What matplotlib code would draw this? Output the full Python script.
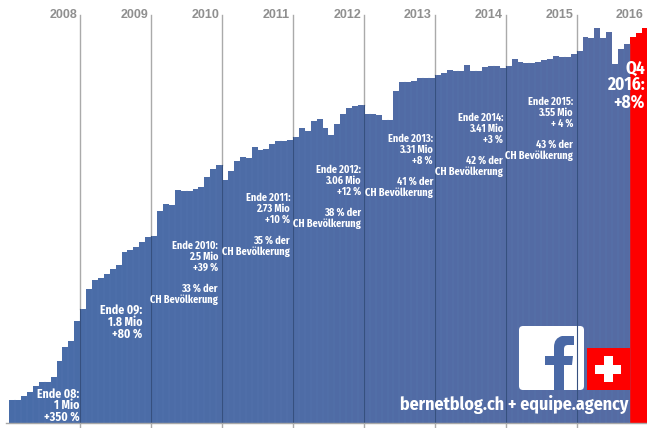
import matplotlib
matplotlib.use("Agg")
import matplotlib.pyplot as plt
from matplotlib.patches import FancyBboxPatch, PathPatch, Rectangle
from matplotlib.path import Path
from matplotlib.colors import to_rgb
import numpy as np

# fans in Mio, one bar per month, last three bars (red) are Q4 2016
users = [
    0.22, 0.22, 0.26, 0.30, 0.36, 0.40, 0.40, 0.44, 0.60, 0.73, 0.79, 0.99,
    1.10, 1.29, 1.38, 1.40, 1.44, 1.49, 1.53, 1.65, 1.67, 1.70, 1.75, 1.80,
    1.81, 2.05, 2.12, 2.11, 2.25, 2.24, 2.24, 2.26, 2.28, 2.38, 2.45, 2.49,
    2.35, 2.43, 2.53, 2.57, 2.56, 2.67, 2.64, 2.65, 2.70, 2.72, 2.72, 2.73,
    2.76, 2.85, 2.82, 2.92, 2.94, 2.85, 2.78, 2.89, 2.99, 3.04, 3.06, 3.07,
    2.99, 2.99, 2.98, 2.93, 2.93, 3.21, 3.29, 3.29, 3.30, 3.33, 3.33, 3.33,
    3.36, 3.38, 3.41, 3.40, 3.40, 3.46, 3.40, 3.40, 3.44, 3.45, 3.45, 3.43,
    3.45, 3.52, 3.49, 3.48, 3.48, 3.49, 3.51, 3.52, 3.55, 3.54, 3.54, 3.57,
    3.59, 3.73, 3.72, 3.82, 3.72, 3.78, 3.47, 3.61, 3.66, 3.73, 3.77, 3.82,
]
n_red = 3
years = ["2008", "2009", "2010", "2011", "2012", "2013", "2014", "2015"]
year_pos = [11.5, 23.5, 35.5, 47.5, 59.5, 71.5, 83.5, 95.5]

labels = [
    (["Ende 08:", "1 Mio", "+350 %"], 79.5, 394, 11.7, 8.5),
    (["Ende 09:", "1.8 Mio", "+80 %"], 142, 311, 11.7, 8.5),
    (["Ende 2010:", "2.5 Mio", "+39 %", "", "33 % der", "CH Bevölkerung"], 218, 246, 10.7, 7.4),
    (["Ende 2011:", "2.73 Mio", "+10 %", "", "35 % der", "CH Bevölkerung"], 290, 198, 10.7, 7.4),
    (["Ende 2012:", "3.06 Mio", "+12 %", "", "38 % der", "CH Bevölkerung"], 361, 170, 10.7, 7.4),
    (["Ende 2013:", "3.31 Mio", "+8 %", "", "41 % der", "CH Bevölkerung"], 433, 139, 10.7, 7.4),
    (["Ende 2014:", "3.41 Mio", "+3 %", "", "42 % der", "CH Bevölkerung"], 503, 118, 10.7, 7.4),
    (["Ende 2015:", "3.55 Mio", "+ 4 %", "", "43 % der", "CH Bevölkerung"], 573, 102, 10.7, 7.4),
    (["Q4", "2016:", "+8%"], 645, 68, 17, 12.5),
]

plt.rcParams['font.family'] = ['Fira Sans Condensed', 'Barlow Condensed', 'Liberation Sans', 'DejaVu Sans']

fig = plt.figure(figsize=(6.47, 4.28), dpi=100)
ax = fig.add_axes([0, 5 / 428, 1, 423 / 428])
ax.axis("off")
px_bar = 5.91
px_start = 9.3
ax.set_xlim(-0.5 - px_start / px_bar, -0.5 + (647 - px_start) / px_bar)
ax.set_ylim(0, 423 / 103.5)

# blue drifts a little towards violet on the right side
left = np.array(to_rgb("#486ca8"))
right = np.array(to_rgb("#566ba3"))
colors = []
for i in range(len(users)):
    if i >= len(users) - n_red:
        colors.append("#fe0000")
    else:
        colors.append(tuple(left + (right - left) * i / len(users)))
x = np.arange(len(users))
ax.bar(x, users, width=1.0, color=colors, linewidth=0)
# thin light seams between the blue bars
for i in x[:-n_red]:
    ax.plot([i + 0.5, i + 0.5], [0, min(users[i], users[i + 1])], color="#587aB2", lw=0.3, zorder=2)

# pixel overlay for lines, text and logo
ov = fig.add_axes([0, 0, 1, 1], facecolor="none")
ov.set_xlim(0, 647)
ov.set_ylim(428, 0)
ov.axis("off")
ov.plot([6, 647], [423, 423], color="#a8a8a8", lw=1)

for name, pos in zip(years, year_pos):
    xp = px_start + (pos + 0.5) * px_bar
    top = 423 - max(users[int(pos + 0.5)], users[int(pos - 0.5)]) * 103.5
    ov.plot([xp, xp], [15, top], color="#aaaaaa", lw=1)
    ov.plot([xp, xp], [top, 423], color="#36507f", lw=0.8)
    ov.plot([xp, xp], [423, 428], color="#aaaaaa", lw=1)
    ov.text(xp - 3, 15, name, ha="right", va="center", color="#8f8f8f", fontsize=9,
            fontweight="bold", family="Liberation Sans")
ov.text(644, 15, "2016", ha="right", va="center", color="#8f8f8f", fontsize=9,
        fontweight="bold", family="Liberation Sans")

for lines, xr, y0, step, size in labels:
    for k, line in enumerate(lines):
        if line:
            ov.text(xr, y0 + k * step, line, ha="right", va="center", color="white",
                    fontsize=size, fontweight="bold")

# facebook logo + swiss flag
ov.add_patch(FancyBboxPatch((522, 329), 59, 58, boxstyle="round,pad=3,rounding_size=4",
                            fc="white", ec="none"))
f_verts = [(554, 390), (554, 365), (545, 365), (545, 356), (554, 356), (554, 347),
           (554, 338), (562, 336), (574, 336), (574, 345), (568, 345), (564, 345),
           (564, 349), (564, 356), (573, 356), (572, 365), (564, 365), (564, 390), (554, 390)]
f_codes = [Path.MOVETO, Path.LINETO, Path.LINETO, Path.LINETO, Path.LINETO, Path.LINETO,
           Path.CURVE3, Path.CURVE3, Path.LINETO, Path.LINETO, Path.LINETO,
           Path.CURVE3, Path.CURVE3, Path.LINETO, Path.LINETO, Path.LINETO,
           Path.LINETO, Path.LINETO, Path.CLOSEPOLY]
ov.add_patch(PathPatch(Path(f_verts, f_codes), fc="#4a69a6", ec="none"))
ov.add_patch(Rectangle((587, 348), 43, 42, fc="#fe0000", ec="none"))
ov.add_patch(Rectangle((595, 364.5), 26, 9, fc="white", ec="none"))
ov.add_patch(Rectangle((603.5, 356), 9, 26, fc="white", ec="none"))
ov.text(628.5, 405, "bernetblog.ch + equipe.agency", ha="right", va="center", color="white",
        fontsize=12.9, fontweight="bold")

fig.savefig("out.png", dpi=100, facecolor="white")
